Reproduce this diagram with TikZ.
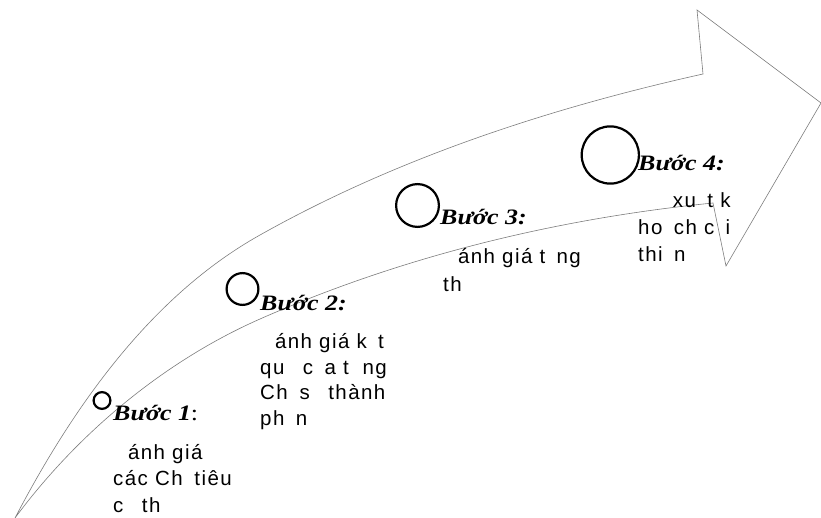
\documentclass[tikz,border=0pt]{standalone}
\usepackage{fontspec}
\setmainfont{Liberation Sans}
\newfontfamily\stepfont[FakeStretch=1.18]{Liberation Serif}
\newfontfamily\bodyfont[LetterSpace=7]{Liberation Sans}
\newcommand\gp[1]{\hphantom{#1}}
\definecolor{outlinegray}{RGB}{125,125,125}
\begin{document}
\begin{tikzpicture}[x=1pt,y=-1pt,
  outline/.style={draw=outlinegray, line width=0.6pt, line join=miter},
  ring/.style={circle, draw=black, line width=2.2pt, inner sep=0pt},
  steplabel/.style={anchor=base west, inner sep=0pt, font=\stepfont\fontsize{22}{26}\selectfont},
  bodyline/.style={anchor=base west, inner sep=0pt, font=\bodyfont\fontsize{20.5}{26}\selectfont}]
\useasboundingbox (0,0) rectangle (821,518);

% arrow outline
\draw[outline]
  (15,518) .. controls (73,407) and (151,296) .. (260,235)
  .. controls (397,158) and (550,108) .. (703,74)
  -- (697,10) -- (821,103) -- (726,266) -- (713,203)
  .. controls (557.8,218.5) and (402.7,256.1) .. (260,319)
  .. controls (164,361.3) and (77.5,433.6) .. (15,518)
  -- cycle;

% circles
\node[ring, minimum size=16.8pt] (c1) at (102,400.5) {};
\node[ring, minimum size=31.8pt] (c2) at (242.5,289) {};
\node[ring, minimum size=42.8pt] (c3) at (417.5,205.5) {};
\node[ring, minimum size=57.2pt] (c4) at (610.3,155) {};

% step labels
\node[steplabel] (b1) at (113,420) {{\bfseries\itshape Bước 1}:};
\node[steplabel] (b2) at (260,310) {\bfseries\itshape Bước 2:};
\node[steplabel] (b3) at (440,225) {\bfseries\itshape Bước 3:};
\node[steplabel] (b4) at (638,171) {\bfseries\itshape Bước 4:};

% step 1 text
\node[bodyline] (s1a) at (113,459) {\gp{Đ}ánh giá};
\node[bodyline] (s1b) at (113,485.5) {các Ch\gp{ỉ} tiêu};
\node[bodyline] (s1c) at (113,512) {c\gp{ụ} th\gp{ể}};

% step 2 text
\node[bodyline] (s2a) at (260,348) {\gp{Đ}ánh giá k\gp{ế}t};
\node[bodyline] (s2b) at (260,374) {qu\gp{ả} c\gp{ủ}a t\gp{ừ}ng};
\node[bodyline] (s2c) at (260,399.5) {Ch\gp{ỉ} s\gp{ố} thành};
\node[bodyline] (s2d) at (260,425) {ph\gp{ầ}n};

% step 3 text
\node[bodyline] (s3a) at (443,264) {\gp{Đ}ánh giá t\gp{ổ}ng};
\node[bodyline] (s3b) at (443,291) {th\gp{ể}};

% step 4 text
\node[bodyline] (s4a) at (638,208) {\gp{Đề} xu\gp{ấ}t k\gp{ế}};
\node[bodyline] (s4b) at (638,235) {ho\gp{ạ}ch c\gp{ả}i};
\node[bodyline] (s4c) at (638,262) {thi\gp{ệ}n};
\end{tikzpicture}
\end{document}
